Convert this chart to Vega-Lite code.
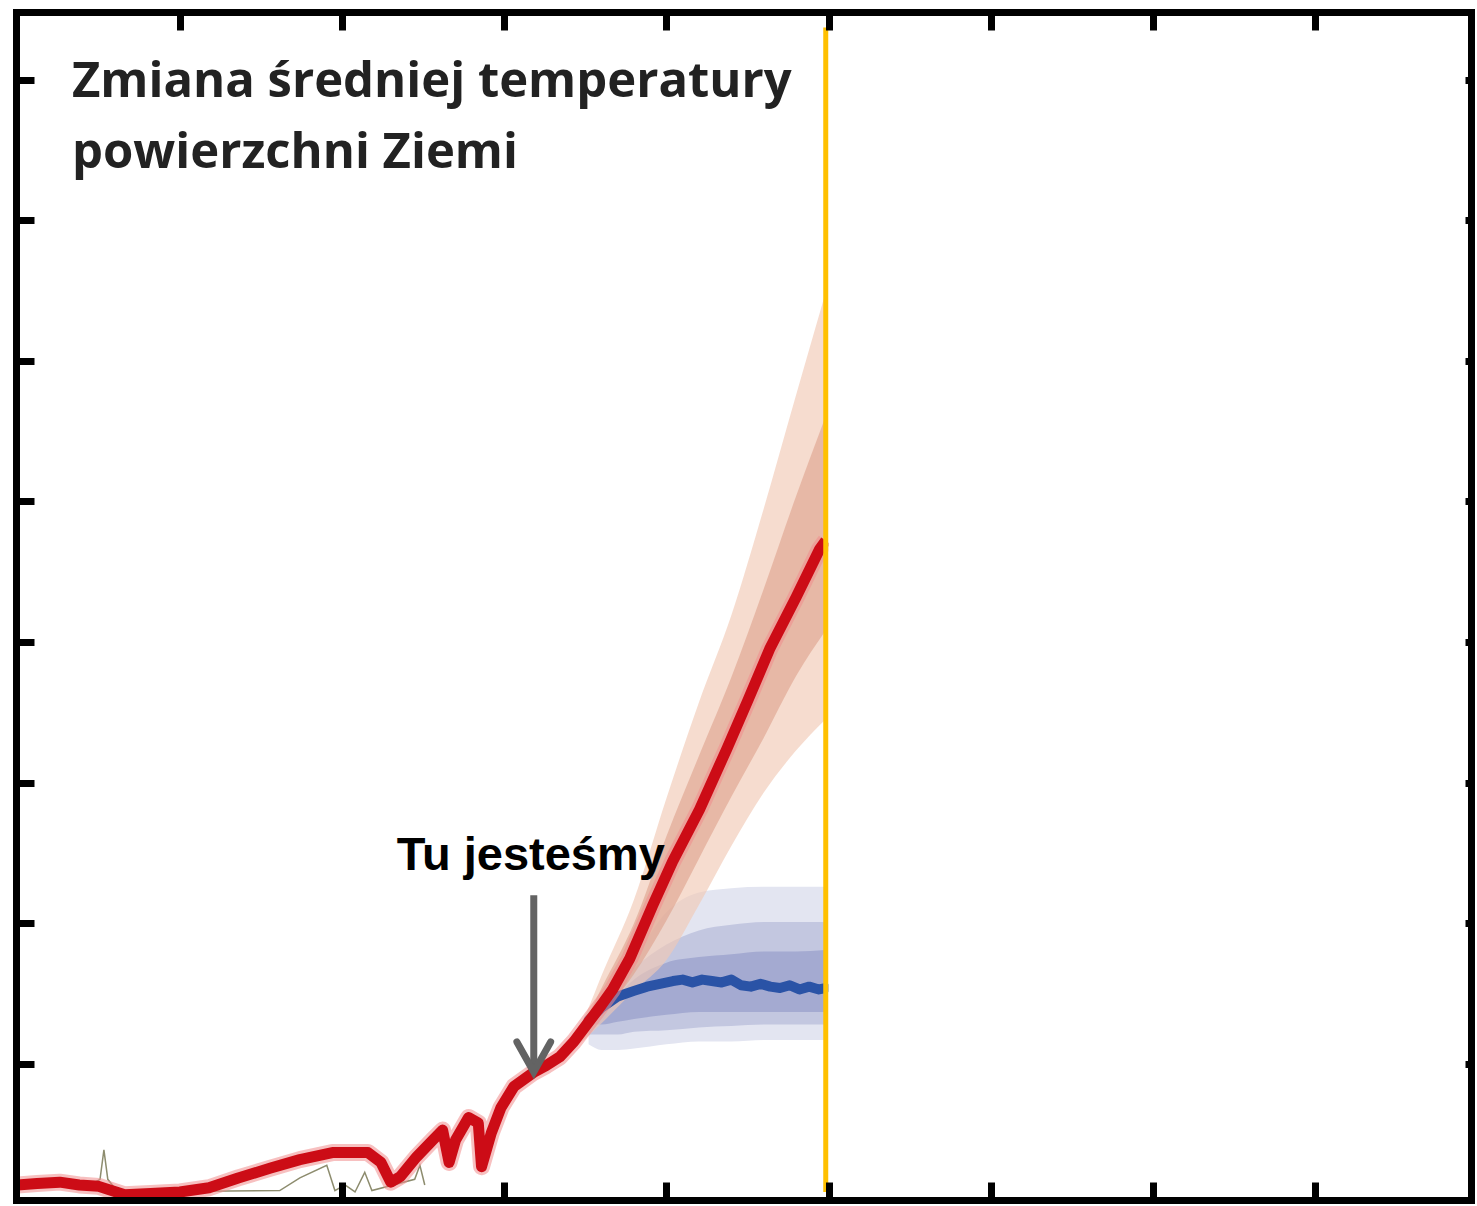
{
  "$schema": "https://vega.github.io/schema/vega-lite/v6.json",
  "width": 1455,
  "height": 1188,
  "autosize": {"type": "none"},
  "padding": {"left": 16, "top": 12, "right": 6, "bottom": 6},
  "background": "white",
  "config": {"view": {"stroke": null}},
  "datasets": {
    "red": [
      {"year":1850,"t":-0.86},{"year":1856,"t":-0.85},{"year":1863,"t":-0.84},{"year":1869,"t":-0.86},
      {"year":1875,"t":-0.87},{"year":1883,"t":-0.93},{"year":1891,"t":-0.92},{"year":1900,"t":-0.91},
      {"year":1909,"t":-0.88},{"year":1918,"t":-0.81},{"year":1928,"t":-0.74},{"year":1937,"t":-0.68},
      {"year":1947,"t":-0.63},{"year":1958,"t":-0.63},{"year":1962,"t":-0.70},{"year":1965,"t":-0.84},
      {"year":1968,"t":-0.80},{"year":1973,"t":-0.66},{"year":1978,"t":-0.54},{"year":1981,"t":-0.47},
      {"year":1983,"t":-0.70},{"year":1985,"t":-0.54},{"year":1989,"t":-0.38},{"year":1992,"t":-0.42},
      {"year":1993,"t":-0.73},{"year":1996,"t":-0.49},{"year":1999,"t":-0.31},{"year":2003,"t":-0.16},
      {"year":2009,"t":-0.06},{"year":2013,"t":-0.01},{"year":2017.1,"t":0.05},{"year":2021.5,"t":0.16},
      {"year":2026.4,"t":0.31},{"year":2030,"t":0.42},{"year":2033.4,"t":0.53},{"year":2038.7,"t":0.75},
      {"year":2045.8,"t":1.13},{"year":2051.9,"t":1.44},{"year":2060.2,"t":1.81},{"year":2068.6,"t":2.24},
      {"year":2075,"t":2.58},{"year":2081.8,"t":2.95},{"year":2090,"t":3.32},{"year":2097.2,"t":3.66},
      {"year":2099.1,"t":3.72}
    ],
    "obs": [
      {"year":1872.3,"t":-0.86},{"year":1875.4,"t":-0.82},{"year":1876.6,"t":-0.61},{"year":1877.8,"t":-0.82},
      {"year":1880.9,"t":-0.91},{"year":1930.8,"t":-0.90},{"year":1937.0,"t":-0.81},{"year":1945.3,"t":-0.72},
      {"year":1947.8,"t":-0.90},{"year":1950.9,"t":-0.86},{"year":1954.0,"t":-0.91},{"year":1957.0,"t":-0.77},
      {"year":1959.2,"t":-0.90},{"year":1972.4,"t":-0.82},{"year":1974.0,"t":-0.72},{"year":1975.5,"t":-0.86}
    ],
    "fanOuter": [
      {"year":2012,"t":-0.02,"t2":-0.04},{"year":2017,"t":0.06,"t2":0.03},{"year":2025,"t":0.35,"t2":0.18},
      {"year":2030,"t":0.63,"t2":0.29},{"year":2040,"t":1.17,"t2":0.52},{"year":2050,"t":1.89,"t2":0.74},
      {"year":2060,"t":2.57,"t2":1.13},{"year":2070,"t":3.19,"t2":1.55},{"year":2080,"t":3.95,"t2":1.93},
      {"year":2090,"t":4.76,"t2":2.23},{"year":2099,"t":5.48,"t2":2.45}
    ],
    "fanInner": [
      {"year":2012,"t":-0.02,"t2":-0.04},{"year":2017,"t":0.06,"t2":0.04},{"year":2025,"t":0.31,"t2":0.22},
      {"year":2030,"t":0.54,"t2":0.35},{"year":2040,"t":1.00,"t2":0.64},{"year":2050,"t":1.62,"t2":1.02},
      {"year":2060,"t":2.19,"t2":1.46},{"year":2070,"t":2.75,"t2":1.90},{"year":2080,"t":3.38,"t2":2.32},
      {"year":2090,"t":4.04,"t2":2.76},{"year":2099,"t":4.60,"t2":3.08}
    ],
    "bandOuter": [
      {"year":2026,"t":0.31,"t2":0.14},{"year":2030,"t":0.47,"t2":0.10},{"year":2035,"t":0.61,"t2":0.10},
      {"year":2040,"t":0.75,"t2":0.11},{"year":2050,"t":1.08,"t2":0.14},{"year":2060,"t":1.22,"t2":0.16},
      {"year":2070,"t":1.25,"t2":0.16},{"year":2080,"t":1.26,"t2":0.17},{"year":2090,"t":1.26,"t2":0.17},
      {"year":2099,"t":1.26,"t2":0.17}
    ],
    "bandMid": [
      {"year":2026,"t":0.31,"t2":0.21},{"year":2030,"t":0.42,"t2":0.21},{"year":2035,"t":0.56,"t2":0.21},
      {"year":2040,"t":0.68,"t2":0.23},{"year":2050,"t":0.85,"t2":0.24},{"year":2060,"t":0.95,"t2":0.26},
      {"year":2070,"t":0.99,"t2":0.27},{"year":2080,"t":1.01,"t2":0.28},{"year":2090,"t":1.01,"t2":0.28},
      {"year":2099,"t":1.01,"t2":0.28}
    ],
    "bandInner": [
      {"year":2026,"t":0.31,"t2":0.28},{"year":2030,"t":0.39,"t2":0.28},{"year":2035,"t":0.49,"t2":0.30},
      {"year":2040,"t":0.60,"t2":0.32},{"year":2050,"t":0.72,"t2":0.35},{"year":2060,"t":0.76,"t2":0.37},
      {"year":2070,"t":0.78,"t2":0.37},{"year":2080,"t":0.80,"t2":0.37},{"year":2090,"t":0.80,"t2":0.37},
      {"year":2099,"t":0.81,"t2":0.37}
    ],
    "blue": [
      {"year":2026,"t":0.31},{"year":2030,"t":0.40},{"year":2035,"t":0.48},{"year":2040,"t":0.52},
      {"year":2044,"t":0.55},{"year":2048,"t":0.57},{"year":2052,"t":0.59},{"year":2055,"t":0.60},
      {"year":2058,"t":0.58},{"year":2061,"t":0.60},{"year":2064,"t":0.59},{"year":2067,"t":0.58},
      {"year":2070,"t":0.60},{"year":2073,"t":0.56},{"year":2076,"t":0.55},{"year":2079,"t":0.57},
      {"year":2082,"t":0.55},{"year":2085,"t":0.54},{"year":2088,"t":0.56},{"year":2091,"t":0.53},
      {"year":2094,"t":0.55},{"year":2097,"t":0.53},{"year":2099,"t":0.54}
    ]
  },
  "resolve": {"axis": {"x": "independent", "y": "independent"}},
  "layer": [
    {
      "data": {"name": "bandOuter"},
      "mark": {"type": "area", "color": "#e3e5f1", "interpolate": "monotone"},
      "encoding": {
        "x": {"field": "year", "type": "quantitative", "scale": {"domain": [1849.5, 2298], "nice": false, "zero": false},
              "axis": {"orient": "bottom", "values": [1950, 2000, 2050, 2100, 2150, 2200, 2250], "labels": false, "title": null, "grid": false,
                       "ticks": true, "tickSize": -18, "tickWidth": 7, "tickColor": "black",
                       "domain": true, "domainWidth": 7, "domainColor": "black", "domainCap": "square", "zindex": 2}},
        "y": {"field": "t", "type": "quantitative", "scale": {"domain": [-0.967, 7.48], "nice": false, "zero": false},
              "axis": {"orient": "left", "values": [0, 1, 2, 3, 4, 5, 6, 7], "labels": false, "title": null, "grid": false,
                       "ticks": true, "tickSize": -18, "tickWidth": 7, "tickColor": "black",
                       "domain": true, "domainWidth": 7, "domainColor": "black", "domainCap": "square", "zindex": 2}},
        "y2": {"field": "t2"}
      }
    },
    {
      "data": {"name": "bandMid"},
      "mark": {"type": "area", "color": "#c3c7e0", "interpolate": "monotone"},
      "encoding": {
        "x": {"field": "year", "type": "quantitative", "scale": {"domain": [1849.5, 2298], "nice": false, "zero": false}, "axis": null},
        "y": {"field": "t", "type": "quantitative", "scale": {"domain": [-0.967, 7.48], "nice": false, "zero": false}, "axis": null},
        "y2": {"field": "t2"}
      }
    },
    {
      "data": {"name": "bandInner"},
      "mark": {"type": "area", "color": "#a4aad1", "interpolate": "monotone"},
      "encoding": {
        "x": {"field": "year", "type": "quantitative", "scale": {"domain": [1849.5, 2298], "nice": false, "zero": false}, "axis": null},
        "y": {"field": "t", "type": "quantitative", "scale": {"domain": [-0.967, 7.48], "nice": false, "zero": false}, "axis": null},
        "y2": {"field": "t2"}
      }
    },
    {
      "data": {"name": "fanOuter"},
      "mark": {"type": "area", "color": "#f1c9b6", "opacity": 0.65, "interpolate": "monotone"},
      "encoding": {
        "x": {"field": "year", "type": "quantitative", "scale": {"domain": [1849.5, 2298], "nice": false, "zero": false}, "axis": null},
        "y": {"field": "t", "type": "quantitative", "scale": {"domain": [-0.967, 7.48], "nice": false, "zero": false}, "axis": null},
        "y2": {"field": "t2"}
      }
    },
    {
      "data": {"name": "fanInner"},
      "mark": {"type": "area", "color": "#dea08a", "opacity": 0.6, "interpolate": "monotone"},
      "encoding": {
        "x": {"field": "year", "type": "quantitative", "scale": {"domain": [1849.5, 2298], "nice": false, "zero": false}, "axis": null},
        "y": {"field": "t", "type": "quantitative", "scale": {"domain": [-0.967, 7.48], "nice": false, "zero": false}, "axis": null},
        "y2": {"field": "t2"}
      }
    },
    {
      "data": {"name": "obs"},
      "mark": {"type": "line", "color": "#8d8c6e", "strokeWidth": 1.5, "clip": true},
      "encoding": {
        "x": {"field": "year", "type": "quantitative", "scale": {"domain": [1849.5, 2298], "nice": false, "zero": false}, "axis": null},
        "y": {"field": "t", "type": "quantitative", "scale": {"domain": [-0.967, 7.48], "nice": false, "zero": false}, "axis": null}
      }
    },
    {
      "data": {"name": "blue"},
      "mark": {"type": "line", "color": "#2a53a6", "strokeWidth": 10, "strokeJoin": "round", "strokeCap": "round"},
      "encoding": {
        "x": {"field": "year", "type": "quantitative", "scale": {"domain": [1849.5, 2298], "nice": false, "zero": false}, "axis": null},
        "y": {"field": "t", "type": "quantitative", "scale": {"domain": [-0.967, 7.48], "nice": false, "zero": false}, "axis": null}
      }
    },
    {
      "data": {"name": "red"},
      "mark": {"type": "line", "color": "#f08c8c", "opacity": 0.55, "strokeWidth": 17, "strokeJoin": "round", "clip": true},
      "encoding": {
        "x": {"field": "year", "type": "quantitative", "scale": {"domain": [1849.5, 2298], "nice": false, "zero": false}, "axis": null},
        "y": {"field": "t", "type": "quantitative", "scale": {"domain": [-0.967, 7.48], "nice": false, "zero": false}, "axis": null}
      }
    },
    {
      "data": {"name": "red"},
      "mark": {"type": "line", "color": "#cc0c16", "strokeWidth": 11, "strokeJoin": "round", "clip": true},
      "encoding": {
        "x": {"field": "year", "type": "quantitative", "scale": {"domain": [1849.5, 2298], "nice": false, "zero": false}, "axis": null},
        "y": {"field": "t", "type": "quantitative", "scale": {"domain": [-0.967, 7.48], "nice": false, "zero": false}, "axis": null}
      }
    },
    {
      "data": {"values": [{"x1": 2099.9, "x2": 2298, "t1": -0.967, "t2": 7.48}]},
      "mark": {"type": "rect", "color": "white"},
      "encoding": {
        "x": {"field": "x1", "type": "quantitative", "scale": {"domain": [1849.5, 2298], "nice": false, "zero": false},
              "axis": {"orient": "top", "values": [1900, 1950, 2000, 2050, 2100, 2150, 2200, 2250], "labels": false, "title": null, "grid": false,
                       "ticks": true, "tickSize": -18, "tickWidth": 7, "tickColor": "black",
                       "domain": true, "domainWidth": 7, "domainColor": "black", "domainCap": "square", "zindex": 2}},
        "x2": {"field": "x2"},
        "y": {"field": "t1", "type": "quantitative", "scale": {"domain": [-0.967, 7.48], "nice": false, "zero": false},
              "axis": {"orient": "right", "values": [0, 1, 2, 3, 4, 5, 6, 7], "labels": false, "title": null, "grid": false,
                       "ticks": true, "tickSize": -6, "tickWidth": 7, "tickColor": "black",
                       "domain": true, "domainWidth": 7, "domainColor": "black", "domainCap": "square", "zindex": 2}},
        "y2": {"field": "t2"}
      }
    },
    {
      "data": {"values": [{"year": 2099.1, "t": 7.37, "t2": -0.91}]},
      "mark": {"type": "rule", "color": "#ffc000", "strokeWidth": 5},
      "encoding": {
        "x": {"field": "year", "type": "quantitative", "scale": {"domain": [1849.5, 2298], "nice": false, "zero": false}, "axis": null},
        "y": {"field": "t", "type": "quantitative", "scale": {"domain": [-0.967, 7.48], "nice": false, "zero": false}, "axis": null},
        "y2": {"field": "t2"}
      }
    },
    {
      "data": {"values": [
        {"label": "Zmiana średniej temperatury", "year": 1866.75, "t": 6.876},
        {"label": "powierzchni Ziemi", "year": 1866.75, "t": 6.371}
      ]},
      "mark": {"type": "text", "font": "Open Sans", "fontWeight": "bold", "fontSize": 49, "color": "#222222", "align": "left", "baseline": "alphabetic"},
      "encoding": {
        "x": {"field": "year", "type": "quantitative", "scale": {"domain": [1849.5, 2298], "nice": false, "zero": false}, "axis": null},
        "y": {"field": "t", "type": "quantitative", "scale": {"domain": [-0.967, 7.48], "nice": false, "zero": false}, "axis": null},
        "text": {"field": "label"}
      }
    },
    {
      "data": {"values": [{"label": "Tu jesteśmy", "year": 2008.2, "t": 1.38}]},
      "mark": {"type": "text", "font": "Liberation Sans", "fontWeight": "bold", "fontSize": 47, "color": "black", "align": "center", "baseline": "alphabetic"},
      "encoding": {
        "x": {"field": "year", "type": "quantitative", "scale": {"domain": [1849.5, 2298], "nice": false, "zero": false}, "axis": null},
        "y": {"field": "t", "type": "quantitative", "scale": {"domain": [-0.967, 7.48], "nice": false, "zero": false}, "axis": null},
        "text": {"field": "label"}
      }
    },
    {
      "data": {"values": [{"year": 2009.1, "t": 1.20, "t2": -0.03}]},
      "mark": {"type": "rule", "color": "#636363", "strokeWidth": 7},
      "encoding": {
        "x": {"field": "year", "type": "quantitative", "scale": {"domain": [1849.5, 2298], "nice": false, "zero": false}, "axis": null},
        "y": {"field": "t", "type": "quantitative", "scale": {"domain": [-0.967, 7.48], "nice": false, "zero": false}, "axis": null},
        "y2": {"field": "t2"}
      }
    },
    {
      "data": {"values": [
        {"i": 1, "year": 2003.9, "t": 0.157},
        {"i": 2, "year": 2009.1, "t": -0.057},
        {"i": 3, "year": 2014.3, "t": 0.157}
      ]},
      "mark": {"type": "line", "color": "#636363", "strokeWidth": 7, "strokeCap": "round", "strokeJoin": "miter"},
      "encoding": {
        "x": {"field": "year", "type": "quantitative", "scale": {"domain": [1849.5, 2298], "nice": false, "zero": false}, "axis": null},
        "y": {"field": "t", "type": "quantitative", "scale": {"domain": [-0.967, 7.48], "nice": false, "zero": false}, "axis": null},
        "order": {"field": "i", "type": "quantitative"}
      }
    }
  ]
}
